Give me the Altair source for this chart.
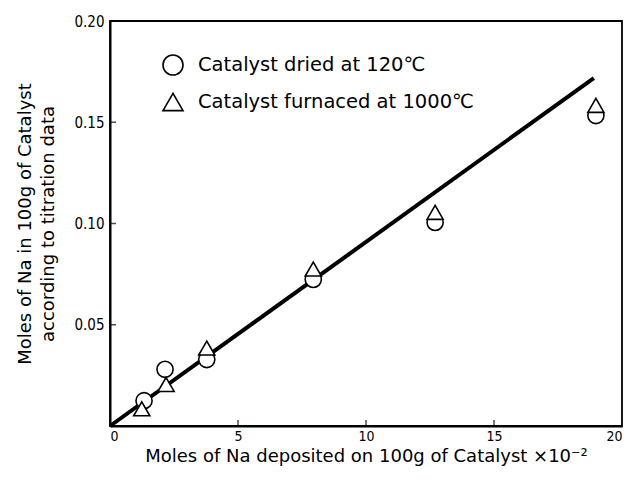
import altair as alt
import pandas as pd

# Data
dried_x = [1.33, 2.15, 3.78, 7.94, 12.7, 18.98]
dried_y = [0.0125, 0.028, 0.0328, 0.0724, 0.1005, 0.1533]
furn_x = [1.24, 2.19, 3.78, 7.94, 12.7, 18.98]
furn_y = [0.0085, 0.0205, 0.0385, 0.0775, 0.1055, 0.1583]
line_x = [0.0, 18.9]
line_y = [0.0, 0.1718]
x_ticks = [0, 5, 10, 15, 20]
y_ticks = [0.05, 0.10, 0.15, 0.20]
series = ["Catalyst dried at 120\u2103", "Catalyst furnaced at 1000\u2103"]

LABEL_FONT = "DejaVu Sans Condensed, Liberation Sans Narrow, sans-serif"
TEXT_FONT = "DejaVu Sans, sans-serif"
W, H = 512, 405

pts = pd.DataFrame(
    {"x": dried_x + furn_x, "y": dried_y + furn_y,
     "s": [series[0]] * len(dried_x) + [series[1]] * len(furn_x),
     "order": [0] * len(dried_x) + [1] * len(furn_x)}
)
line_df = pd.DataFrame({"x": line_x, "y": line_y})
xt = pd.DataFrame({"x": x_ticks[1:-1]})
yt = pd.DataFrame({"y": y_ticks[:-1]})

xscale = alt.Scale(domain=[0, 20], nice=False, zero=False)
yscale = alt.Scale(domain=[0, 0.20], nice=False, zero=False)

xaxis = alt.Axis(values=x_ticks, format="d", title="Moles of Na deposited on 100g of Catalyst \u00d710\u207b\u00b2",
                 ticks=False, labelPadding=3, titlePadding=4, grid=False)
yaxis = alt.Axis(values=y_ticks, format=".2f",
                 title=["Moles of Na in 100g of Catalyst", "according to titration data"],
                 ticks=False, labelPadding=6, titlePadding=16, grid=False)

line = alt.Chart(line_df).mark_line(color="black", strokeWidth=4).encode(
    x=alt.X("x:Q", scale=xscale, axis=xaxis),
    y=alt.Y("y:Q", scale=yscale, axis=yaxis),
)

legend = alt.Legend(title=None, orient="none", legendX=52, legendY=33,
                    symbolSize=400, symbolStrokeWidth=1.6, symbolOpacity=1,
                    symbolFillColor="white",
                    labelFontSize=19.5, labelFont=TEXT_FONT, labelOffset=14,
                    labelLimit=400, rowPadding=11, padding=0, labelColor="black")

points = alt.Chart(pts).mark_point(filled=False, fill="white", fillOpacity=1,
                                   strokeWidth=1.6, size=260, opacity=1).encode(
    x=alt.X("x:Q", scale=xscale),
    y=alt.Y("y:Q", scale=yscale),
    shape=alt.Shape("s:N", scale=alt.Scale(domain=series, range=["circle", "triangle-up"]),
                    legend=legend),
    color=alt.Color("s:N", scale=alt.Scale(domain=series, range=["black", "black"]),
                    legend=legend),
    order=alt.Order("order:Q"),
)

xtick_marks = alt.Chart(xt).mark_tick(color="black", size=6, thickness=1.5, orient="vertical").encode(
    x=alt.X("x:Q", scale=xscale), y=alt.value(H - 3)
)
ytick_marks = alt.Chart(yt).mark_tick(color="black", size=6, thickness=1.5, orient="horizontal").encode(
    y=alt.Y("y:Q", scale=yscale), x=alt.value(3)
)

chart = (
    alt.layer(line, xtick_marks, ytick_marks, points)
    .properties(width=W, height=H, autosize=alt.AutoSizeParams(type="none"),
                padding={"left": 102, "top": 13, "right": 1, "bottom": 47})
    .configure_view(stroke="black", strokeWidth=1.8)
    .configure_axis(domainColor="black", domainWidth=2, labelColor="black", titleColor="black",
                    labelFont=LABEL_FONT, titleFont=TEXT_FONT, titleFontSize=18,
                    titleFontWeight="normal")
    .configure_axisX(labelFontSize=14)
    .configure_axisY(labelFontSize=15, titleLineHeight=23)
)

chart.save("out.html", embed_options={"renderer": "svg", "actions": False})
